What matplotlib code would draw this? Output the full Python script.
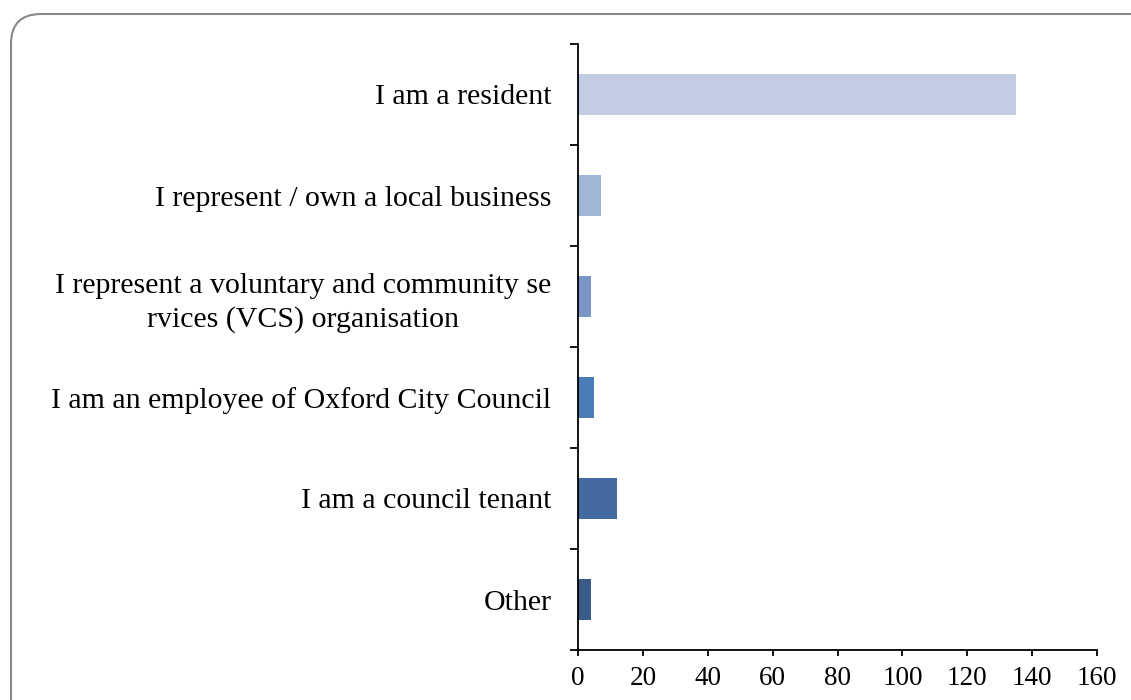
import matplotlib.pyplot as plt
from matplotlib.patches import FancyBboxPatch
import numpy as np

categories = ['I am a resident',
              'I represent / own a local business',
              'I represent a voluntary and community se\nrvices (VCS) organisation',
              'I am an employee of Oxford City Council',
              'I am a council tenant',
              'Other']
counts = [135, 7, 4, 5, 12, 4]
colors = ['#c3cde2', '#a3b5d6', '#7a96c7', '#4c7cb8', '#436b9f', '#385b88']
xticks = [0, 20, 40, 60, 80, 100, 120, 140, 160]

plt.rcParams['font.family'] = ['Liberation Serif', 'DejaVu Serif']

fig = plt.figure(figsize=(11.31, 7), dpi=100)
# rounded frame, running off the right and bottom edges
border = FancyBboxPatch((0.11, -1.0), 20, 7 - 0.14 + 1.0,
                        boxstyle='round,pad=0,rounding_size=0.3',
                        transform=fig.dpi_scale_trans, fill=False,
                        edgecolor='#888888', linewidth=1.5)
fig.patches.append(border)

ax = fig.add_axes([578/1131, 50/700, (1097-578)/1131, (650-44)/700])
ypos = np.arange(len(categories))
ax.barh(ypos, counts, height=0.4, color=colors)
ax.set_ylim(len(categories) - 0.5, -0.5)
ax.set_xlim(0, 160)
ax.set_xticks(xticks)
ax.set_xticklabels([str(t) for t in xticks], fontsize=19.5)

ax.set_yticks(np.arange(-0.5, len(categories), 1.0))
ax.set_yticklabels([])
ax.set_yticks(ypos, minor=True)
ax.set_yticklabels(categories, minor=True, fontsize=21.5)
for lbl in ax.get_yticklabels(minor=True):
    lbl.set_multialignment('center')
    lbl.set_linespacing(1.35)
ax.tick_params(axis='y', which='minor', length=0, pad=19)
ax.tick_params(axis='y', which='major', length=6, width=1.3, direction='out')
ax.tick_params(axis='x', length=4.5, width=1.3, direction='out', pad=7)

for s in ['top', 'right']:
    ax.spines[s].set_visible(False)
for s in ['left', 'bottom']:
    ax.spines[s].set_linewidth(1.3)

fig.savefig('out.png', dpi=100)
